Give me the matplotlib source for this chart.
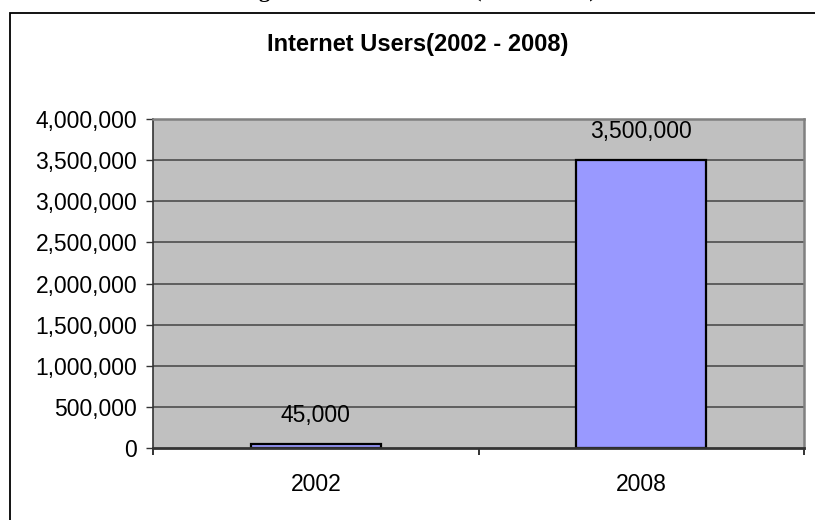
import matplotlib.pyplot as plt
from matplotlib.patches import Rectangle
from matplotlib.ticker import FuncFormatter, FixedLocator

# data
years = ['2002', '2008']
users = [45000, 3500000]
y_ticks = [0, 500000, 1000000, 1500000, 2000000, 2500000, 3000000, 3500000, 4000000]

plt.rcParams['font.family'] = ['Liberation Sans', 'DejaVu Sans']

fig = plt.figure(figsize=(8.15, 5.2), dpi=100)
W, H = 815, 520

# caption of the page, mostly cut off above the chart frame
fig.text(418 / W, 1 + 3 / H, 'Figure 1: Internet Users (2002 - 2008)',
         ha='center', va='baseline', fontsize=16, fontweight='bold',
         family=['Liberation Serif', 'DejaVu Serif'])

# chart frame
fig.patches.append(Rectangle((10 / W, -0.1), 1.2, 1.1 - 13 / H,
                             transform=fig.transFigure, fill=False,
                             edgecolor='black', linewidth=1.3))

ax = fig.add_axes([153 / W, 1 - 448 / H, (804 - 153) / W, (448 - 119) / H])
ax.set_facecolor('#C0C0C0')

x = range(len(years))
ax.bar(x, users, width=0.4, color='#9999FF', edgecolor='black',
       linewidth=1.6, zorder=3)

for xi, v in zip(x, users):
    ax.annotate(f'{v:,}', (xi, v), xytext=(0, 20.5), textcoords='offset points',
                ha='center', va='center', fontsize=16.5)

ax.set_xlim(-0.5, 1.5)
ax.set_ylim(0, 4000000)
ax.set_yticks(y_ticks)
ax.yaxis.set_major_formatter(FuncFormatter(lambda v, p: f'{int(v):,}'))
ax.tick_params(axis='y', length=5, width=1, labelsize=16.5, pad=6.5,
               color='#333333')
for t in y_ticks[1:-1]:
    ax.axhline(t, color='#444444', linewidth=1.1, zorder=1)

ax.set_xticks(list(x))
ax.set_xticklabels(years)
ax.tick_params(axis='x', which='major', length=0, labelsize=16.5, pad=18)
ax.xaxis.set_minor_locator(FixedLocator([-0.5, 0.5, 1.5]))
ax.tick_params(axis='x', which='minor', length=5, width=1.3, color='#222222')

for s in ['top', 'right']:
    ax.spines[s].set_color('#808080')
    ax.spines[s].set_linewidth(1.8)
ax.spines['left'].set_color('#333333')
ax.spines['left'].set_linewidth(1.2)
ax.spines['bottom'].set_color('#333333')
ax.spines['bottom'].set_linewidth(2)
for s in ax.spines.values():
    s.set_zorder(4)

fig.text(418 / W, 1 - 44 / H, 'Internet Users(2002 - 2008)', ha='center',
         va='center', fontsize=17, fontweight='bold')

fig.savefig('out.png', dpi=100)
